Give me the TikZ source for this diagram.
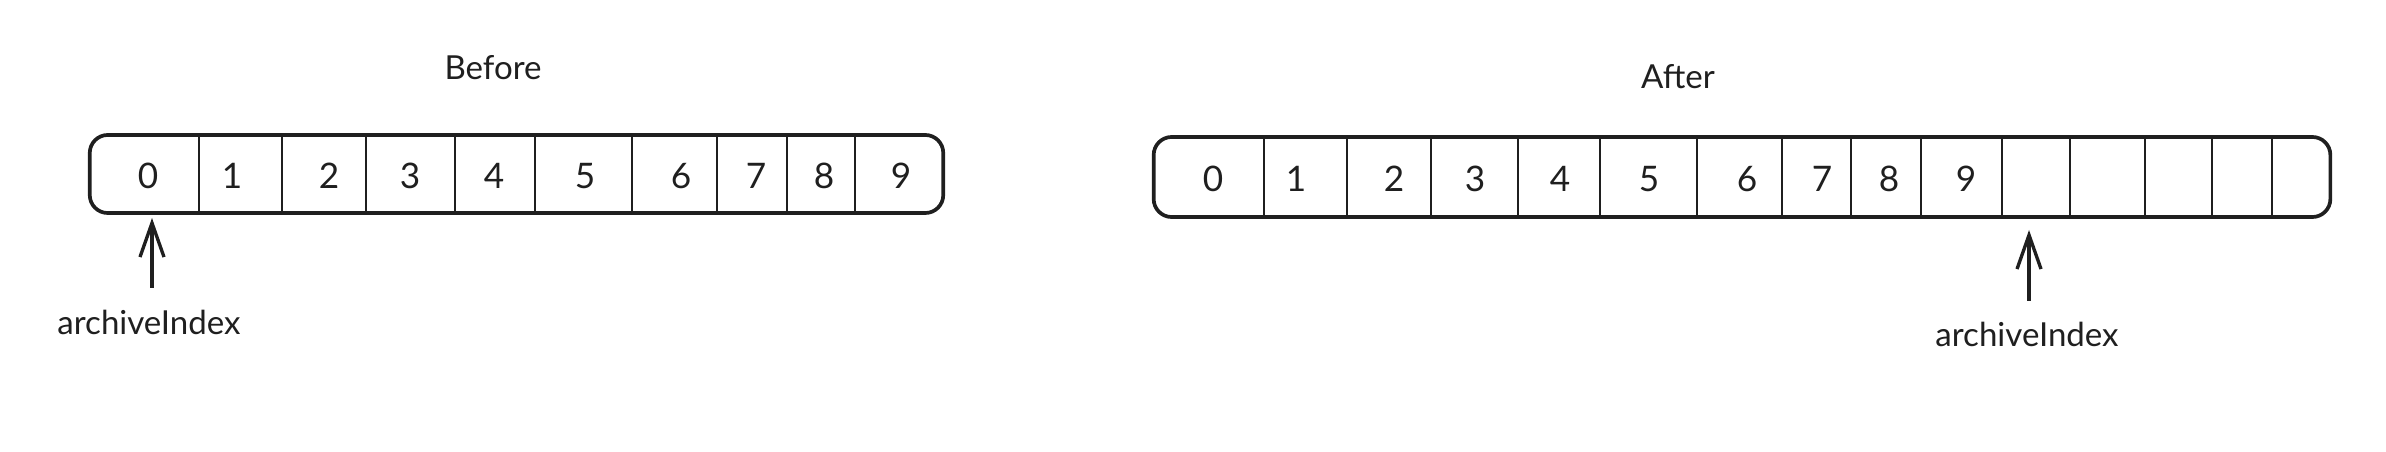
\documentclass[tikz,border=0pt]{standalone}
\usepackage{fontspec}
\setmainfont{Lato}
\usetikzlibrary{arrows.meta}

\begin{document}
\begin{tikzpicture}[x=0.01cm,y=-0.01cm,>={Straight Barb[length=0.34cm,width=0.24cm]},semithick]
	\tikzstyle{every node}=[font=\fontsize{9.4}{11}\selectfont,text=black!88]
	\tikzstyle{array}=[draw=black!88,line width=1.05pt,rounded corners=0.18cm,inner sep=0pt]
	\tikzstyle{cell}=[draw=black!88,line width=0.75pt]
	\tikzstyle{digit}=[font=\fontsize{10}{12}\selectfont]
	\tikzstyle{pointer}=[->,draw=black!88,line width=0.95pt,shorten <=0.09cm]

	\useasboundingbox (0,0) rectangle (2386,452);

	% before
	\node (BT) at (493,80) [anchor=base] {Before};
	\node[array,minimum width=8.53cm,minimum height=0.78cm] (B) at (516.5,174) {};
	\foreach \x in {199,282,366,455,535,632,717,787,855}
		\draw[cell] (\x,0 |- B.north) -- (\x,0 |- B.south);
	\foreach \x [count=\i from 0] in {148,232,329,410,494,585,681,756,824,901}
		\node[digit] (b\i) at (\x,176) {\i};
	\node (BI) at (149,334) [anchor=base] {archiveIndex};
	\coordinate (BP) at (152,218);
	\draw[pointer] (BI.north -| BP) -- (BP);

	% after
	\node (AT) at (1678,89) [anchor=base] {After};
	\node[array,minimum width=11.76cm,minimum height=0.80cm] (A) at (1742,177) {};
	\foreach \x in {1264,1347,1431,1518,1600,1697,1782,1851,1921,2002,2070,2145,2212,2272}
		\draw[cell] (\x,0 |- A.north) -- (\x,0 |- A.south);
	\foreach \x [count=\i from 0] in {1213,1296,1394,1475,1560,1649,1747,1822,1889,1966}
		\node[digit] (a\i) at (\x,179) {\i};
	\node (AI) at (2027,347) [anchor=base] {archiveIndex};
	\coordinate (AP) at (2029,230);
	\draw[pointer] (AI.north -| AP) -- (AP);
\end{tikzpicture}
\end{document}
